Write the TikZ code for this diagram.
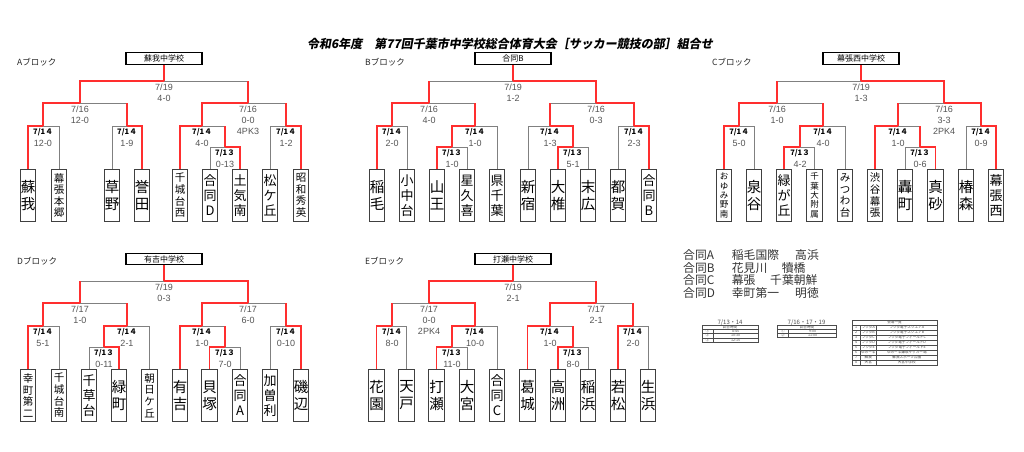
\documentclass[tikz,border=0pt]{standalone}
\usepackage{fontspec}
\newfontfamily\jp{Noto Sans CJK JP}
\newfontfamily\jpsl[FakeSlant=0.18]{Noto Sans CJK JP}
\newfontfamily\lab{Liberation Sans}
\definecolor{winred}{HTML}{FF2E2E}
\definecolor{losegray}{HTML}{808080}
\definecolor{labgray}{HTML}{555555}
\begin{document}
\begin{tikzpicture}[x=1pt, y=-1pt,
  win/.style={winred, line width=1.5},
  lose/.style={losegray, line width=0.9},
  team/.style={draw=black!75, line width=0.8, fill=white, minimum width=15.5, minimum height=52,
    inner sep=0pt, align=center, anchor=north, font=\jp\fontsize{14.5}{17}\selectfont},
  tm3/.style={team, font=\jp\fontsize{13}{15}\selectfont},
  tm4/.style={team, font=\jp\fontsize{10.5}{11.6}\selectfont},
  tm5/.style={team, font=\jp\fontsize{8.5}{9.4}\selectfont},
  host/.style={draw, line width=1.2, fill=white, minimum width=76, minimum height=11.5,
    inner sep=0pt, font=\jp\fontsize{8}{8}\selectfont},
  blk/.style={anchor=west, inner sep=0pt, text=black!85, font=\jp\fontsize{8.5}{8.5}\selectfont},
  dy/.style={yshift=-6, inner sep=0pt, font=\jp\bfseries\fontsize{7.5}{7.5}\selectfont},
  dt/.style={yshift=-6, inner sep=0pt, text=labgray, font=\lab\fontsize{9}{9}\selectfont},
  sc/.style={yshift=-17, inner sep=0pt, text=labgray, font=\lab\fontsize{9}{9}\selectfont},
  pk/.style={yshift=-28, inner sep=0pt, text=labgray, font=\lab\fontsize{9}{9}\selectfont},
  leg/.style={anchor=west, inner sep=0pt, text=black!80, font=\jp\fontsize{11.8}{11.8}\selectfont},
  tl/.style={black!70, line width=0.5},
  tiny/.style={inner sep=0pt, text=black!70, font=\jp\fontsize{3.6}{3.6}\selectfont}]
\fill[white] (0,0) rectangle (1024,451);
\useasboundingbox (0,0) rectangle (1024,451);

% title and block names
\node[font=\jpsl\bfseries\fontsize{12}{12}\selectfont] (title) at (510,44)
  {令和6年度　第77回千葉市中学校総合体育大会［サッカー競技の部］組合せ};
\node[blk] (la) at (17,62) {Aブロック};
\node[blk] (lb) at (365,62) {Bブロック};
\node[blk] (lc) at (712,62) {Cブロック};
\node[blk] (ld) at (17,261) {Dブロック};
\node[blk] (le) at (365,261) {Eブロック};

% winners
\node[host] (ha) at (164,58.5) {蘇我中学校};
\node[host] (hb) at (513,58.5) {合同B};
\node[host] (hc) at (861,58.5) {幕張西中学校};
\node[host] (hd) at (164,259) {有吉中学校};
\node[host] (he) at (513,259) {打瀬中学校};

% A block
\node[team] (ta1) at (28,169) {蘇\\我};
\node[tm4] (ta2) at (59,169) {幕\\張\\本\\郷};
\node[team] (ta3) at (112,169) {草\\野};
\node[team] (ta4) at (142,169) {誉\\田};
\node[tm4] (ta5) at (180,169) {千\\城\\台\\西};
\node[tm3] (ta6) at (210,169) {合\\同\\D};
\node[tm3] (ta7) at (240,169) {土\\気\\南};
\node[tm3] (ta8) at (270,169) {松\\ケ\\丘};
\node[tm4] (ta9) at (301,169) {昭\\和\\秀\\英};
\coordinate (ma1) at (43,126);
\coordinate (ma2) at (127,126);
\coordinate (ma3) at (225,147);
\coordinate (ma4) at (202,126);
\coordinate (ma5) at (286,126);
\coordinate (ma6) at (80,103);
\coordinate (ma7) at (248,103);
\coordinate (ma8) at (164,81);

% B block
\node[team] (tb1) at (377,169) {稲\\毛};
\node[tm3] (tb2) at (407,169) {小\\中\\台};
\node[team] (tb3) at (437,169) {山\\王};
\node[tm3] (tb4) at (467,169) {星\\久\\喜};
\node[tm3] (tb5) at (497,169) {県\\千\\葉};
\node[team] (tb6) at (528,169) {新\\宿};
\node[team] (tb7) at (558,169) {大\\椎};
\node[team] (tb8) at (588,169) {末\\広};
\node[team] (tb9) at (618,169) {都\\賀};
\node[tm3] (tb10) at (649,169) {合\\同\\B};
\coordinate (mb1) at (392,126);
\coordinate (mb2) at (452,147);
\coordinate (mb3) at (475,126);
\coordinate (mb4) at (573,147);
\coordinate (mb5) at (550,126);
\coordinate (mb6) at (634,126);
\coordinate (mb7) at (429,103);
\coordinate (mb8) at (596,103);
\coordinate (mb9) at (513,81);

% C block
\node[tm5] (tc1) at (724,169) {お\\ゆ\\み\\野\\南};
\node[team] (tc2) at (754,169) {泉\\谷};
\node[tm3] (tc3) at (784,169) {緑\\が\\丘};
\node[tm5] (tc4) at (814.5,169) {千\\葉\\大\\附\\属};
\node[tm4] (tc5) at (845,169) {み\\つ\\わ\\台};
\node[tm4] (tc6) at (875,169) {渋\\谷\\幕\\張};
\node[team] (tc7) at (905,169) {轟\\町};
\node[team] (tc8) at (935.5,169) {真\\砂};
\node[team] (tc9) at (966,169) {椿\\森};
\node[tm3] (tc10) at (996,169) {幕\\張\\西};
\coordinate (mc1) at (739,126);
\coordinate (mc2) at (800,147);
\coordinate (mc3) at (823,126);
\coordinate (mc4) at (920,147);
\coordinate (mc5) at (898,126);
\coordinate (mc6) at (981,126);
\coordinate (mc7) at (777,103);
\coordinate (mc8) at (944,103);
\coordinate (mc9) at (861,81);

% D block
\node[tm4] (td1) at (28,369) {幸\\町\\第\\二};
\node[tm4] (td2) at (59,369) {千\\城\\台\\南};
\node[tm3] (td3) at (89,369) {千\\草\\台};
\node[team] (td4) at (119,369) {緑\\町};
\node[tm4] (td5) at (149.5,369) {朝\\日\\ケ\\丘};
\node[team] (td6) at (180,369) {有\\吉};
\node[team] (td7) at (209.5,369) {貝\\塚};
\node[tm3] (td8) at (240,369) {合\\同\\A};
\node[tm3] (td9) at (270,369) {加\\曽\\利};
\node[team] (td10) at (301,369) {磯\\辺};
\coordinate (md1) at (43,326);
\coordinate (md2) at (104,347);
\coordinate (md3) at (127,326);
\coordinate (md4) at (225,347);
\coordinate (md5) at (202,326);
\coordinate (md6) at (286,326);
\coordinate (md7) at (80,303);
\coordinate (md8) at (248,303);
\coordinate (md9) at (164,281);

% E block
\node[team] (te1) at (376.5,369) {花\\園};
\node[team] (te2) at (406.5,369) {天\\戸};
\node[team] (te3) at (436.5,369) {打\\瀬};
\node[team] (te4) at (467,369) {大\\宮};
\node[tm3] (te5) at (497,369) {合\\同\\C};
\node[team] (te6) at (527.5,369) {葛\\城};
\node[team] (te7) at (558,369) {高\\洲};
\node[team] (te8) at (588,369) {稲\\浜};
\node[team] (te9) at (618,369) {若\\松};
\node[team] (te10) at (648,369) {生\\浜};
\coordinate (me1) at (392,326);
\coordinate (me2) at (452,347);
\coordinate (me3) at (475,326);
\coordinate (me4) at (573,347);
\coordinate (me5) at (550,326);
\coordinate (me6) at (633,326);
\coordinate (me7) at (429,303);
\coordinate (me8) at (596,303);
\coordinate (me9) at (513,281);

% bracket lines
\foreach \c/\p/\s in {ta2/ma1/lose, ta1/ma1/win, ta3/ma2/lose, ta4/ma2/win, ta6/ma3/lose, ta7/ma3/win,
  ta5/ma4/win, ma3/ma4/lose, ta8/ma5/lose, ta9/ma5/win, ma1/ma6/win, ma2/ma6/lose,
  ma4/ma7/win, ma5/ma7/lose, ma6/ma8/win, ma7/ma8/lose,
  tb1/mb1/win, tb2/mb1/lose, tb3/mb2/win, tb4/mb2/lose, mb2/mb3/win, tb5/mb3/lose,
  tb7/mb4/win, tb8/mb4/lose, tb6/mb5/lose, mb4/mb5/win, tb9/mb6/lose, tb10/mb6/win,
  mb1/mb7/win, mb3/mb7/lose, mb5/mb8/lose, mb6/mb8/win, mb7/mb9/lose, mb8/mb9/win,
  tc1/mc1/win, tc2/mc1/lose, tc3/mc2/win, tc4/mc2/lose, mc2/mc3/win, tc5/mc3/lose,
  tc7/mc4/lose, tc8/mc4/win, tc6/mc5/win, mc4/mc5/lose, tc9/mc6/lose, tc10/mc6/win,
  mc1/mc7/win, mc3/mc7/lose, mc5/mc8/lose, mc6/mc8/win, mc7/mc9/lose, mc8/mc9/win,
  td1/md1/win, td2/md1/lose, td3/md2/lose, td4/md2/win, md2/md3/win, td5/md3/lose,
  td7/md4/win, td8/md4/lose, td6/md5/win, md4/md5/lose, td9/md6/lose, td10/md6/win,
  md1/md7/win, md3/md7/lose, md5/md8/win, md6/md8/lose, md7/md9/lose, md8/md9/win,
  te1/me1/win, te2/me1/lose, te3/me2/win, te4/me2/lose, me2/me3/win, te5/me3/lose,
  te7/me4/win, te8/me4/lose, te6/me5/win, me4/me5/lose, te9/me6/win, te10/me6/lose,
  me1/me7/lose, me3/me7/win, me5/me8/win, me6/me8/lose, me7/me9/win, me8/me9/lose}
  {\draw[\s] (\c) |- (\p);}
\foreach \c/\p in {ma1/ma6, ma2/ma6, ma3/ma4, ma4/ma7, ma5/ma7, ma6/ma8, ma7/ma8,
  mb1/mb7, mb2/mb3, mb3/mb7, mb4/mb5, mb5/mb8, mb6/mb8, mb7/mb9, mb8/mb9,
  mc1/mc7, mc2/mc3, mc3/mc7, mc4/mc5, mc5/mc8, mc6/mc8, mc7/mc9, mc8/mc9,
  md1/md7, md2/md3, md3/md7, md4/md5, md5/md8, md6/md8, md7/md9, md8/md9,
  me1/me7, me2/me3, me3/me7, me4/me5, me5/me8, me6/me8, me7/me9, me8/me9}
  {\draw[win] (\c) -- (\c |- \p);}
\foreach \c/\p in {ma8/ha, mb9/hb, mc9/hc, md9/hd, me9/he}
  {\draw[win] (\c) -- (\p);}

% dates and scores
\foreach \m in {ma1,ma2,ma4,ma5,mb1,mb3,mb5,mb6,mc1,mc3,mc5,mc6,md1,md3,md5,md6,me1,me3,me5,me6}
  {\node[dy] (d\m) at (\m) {7/1４};}
\foreach \m in {ma3,mb2,mb4,mc2,mc4,md2,md4,me2,me4}
  {\node[dy] (d\m) at (\m) {7/1３};}
\foreach \m in {ma6,ma7,mb7,mb8,mc7,mc8}
  {\node[dt] (d\m) at (\m) {7/16};}
\foreach \m in {md7,md8,me7,me8}
  {\node[dt] (d\m) at (\m) {7/17};}
\foreach \m in {ma8,mb9,mc9,md9,me9}
  {\node[dt] (d\m) at (\m) {7/19};}
\foreach \m/\s in {ma1/12-0, ma2/1-9, ma3/0-13, ma4/4-0, ma5/1-2, ma6/12-0, ma7/0-0, ma8/4-0,
  mb1/2-0, mb2/1-0, mb3/1-0, mb4/5-1, mb5/1-3, mb6/2-3, mb7/4-0, mb8/0-3, mb9/1-2,
  mc1/5-0, mc2/4-2, mc3/4-0, mc4/0-6, mc5/1-0, mc6/0-9, mc7/1-0, mc8/3-3, mc9/1-3,
  md1/5-1, md2/0-11, md3/2-1, md4/7-0, md5/1-0, md6/0-10, md7/1-0, md8/6-0, md9/0-3,
  me1/8-0, me2/11-0, me3/10-0, me4/8-0, me5/1-0, me6/2-0, me7/0-0, me8/2-1, me9/2-1}
  {\node[sc] (s\m) at (\m) {\s};}
\node[pk] (pma7) at (ma7) {4PK3};
\node[pk] (pmc8) at (mc8) {2PK4};
\node[pk] (pme7) at (me7) {2PK4};

% joint teams
\node[leg] (ga) at (683,255) {合同A};
\node[leg] (ga1) at (731.7,255) {稲毛国際};
\node[leg] (ga2) at (795,255) {高浜};
\node[leg] (gb) at (683,267.7) {合同B};
\node[leg] (gb1) at (731.7,267.7) {花見川};
\node[leg] (gb2) at (781.7,267.7) {犢橋};
\node[leg] (gc) at (683,280.3) {合同C};
\node[leg] (gc1) at (731.7,280.3) {幕張};
\node[leg] (gc2) at (770,280.3) {千葉朝鮮};
\node[leg] (gd) at (683,293) {合同D};
\node[leg] (gd1) at (731.7,293) {幸町第一};
\node[leg] (gd2) at (795,293) {明徳};

% kick-off times
\node[tiny, font=\jp\fontsize{6}{6}\selectfont] (k1) at (730,322.3) {7/13・14};
\draw[tl] (702,325) rectangle (758,342);
\foreach \y in {329.25,333.5,337.75} \draw[tl] (702,\y) -- (758,\y);
\draw[tl] (713,329.25) -- (713,342);
\node[tiny] (k1h) at (730,327.1) {試合時間};
\foreach \i/\n/\t in {1/①/8:45, 2/②/10:30, 3/③/12:15}
  {\node[tiny] (k1n\i) at (707.5,327.1+4.25*\i) {\n};
   \node[tiny] (k1t\i) at (735.5,327.1+4.25*\i) {\t};}
\node[tiny, font=\jp\fontsize{6}{6}\selectfont] (k2) at (806.5,322.3) {7/16・17・19};
\draw[tl] (777.3,325) rectangle (836.7,337.5);
\foreach \y in {329.2,333.3} \draw[tl] (777.3,\y) -- (836.7,\y);
\draw[tl] (788.3,329.2) -- (788.3,337.5);
\node[tiny] (k2h) at (807,327.1) {試合時間};
\foreach \i/\n/\t in {1/①/9:00, 2/②/11:00}
  {\node[tiny] (k2n\i) at (782.8,327.1+4.15*\i) {\n};
   \node[tiny] (k2t\i) at (812.5,327.1+4.15*\i) {\t};}

% venues
\draw[tl] (852,320) rectangle (937,365);
\foreach \y in {325,330,...,360} \draw[tl] (852,\y) -- (937,\y);
\draw[tl] (860,325) -- (860,365);
\draw[tl] (876.7,325) -- (876.7,365);
\node[tiny] (vh) at (894.5,322.5) {会場一覧};
\foreach \i/\a/\b in {1/フクダA/フクダ電子スクエアA, 2/フクダB/フクダ電子スクエアB,
  3/フクダC/フクダ電子フィールドC, 4/フクダD/フクダ電子フィールドD, 5/フクダE/フクダ電子フィールドE,
  6/ゆみーる/ゆみーる鎌取サッカー場, 7/蘇我/蘇我スポーツ公園, 8/大宮/大宮中学校}
  {\node[tiny] (vn\i) at (856,322.5+5*\i) {\i};
   \node[tiny] (va\i) at (868.3,322.5+5*\i) {\a};
   \node[tiny] (vb\i) at (906.8,322.5+5*\i) {\b};}
\end{tikzpicture}
\end{document}
